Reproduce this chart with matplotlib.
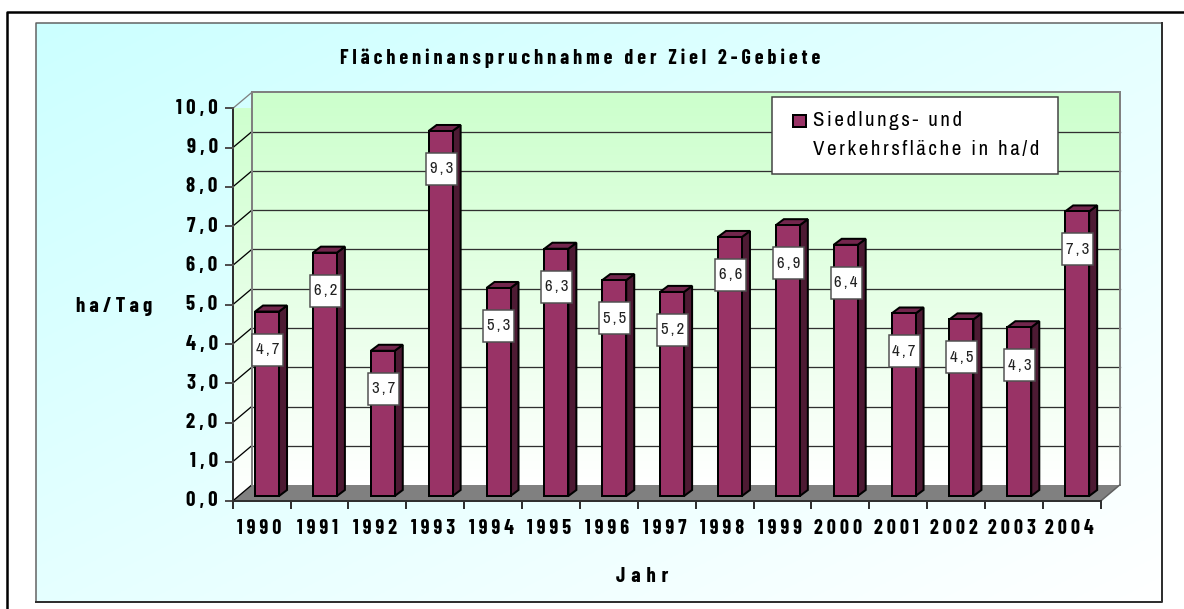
import numpy as np
import matplotlib
matplotlib.use("Agg")
import matplotlib.pyplot as plt
from matplotlib.patches import Polygon, Rectangle

years = list(range(1990, 2005))
values = [4.7, 6.2, 3.7, 9.3, 5.3, 6.3, 5.5, 5.2, 6.6, 6.9, 6.4, 4.65, 4.5, 4.3, 7.25]
value_labels = ["4,7", "6,2", "3,7", "9,3", "5,3", "6,3", "5,5", "5,2", "6,6", "6,9", "6,4", "4,7", "4,5", "4,3", "7,3"]
y_ticks = np.arange(0, 11)
y_tick_labels = ["0,0", "1,0", "2,0", "3,0", "4,0", "5,0", "6,0", "7,0", "8,0", "9,0", "10,0"]
title = "Flächeninanspruchnahme der Ziel 2-Gebiete"
x_title = "Jahr"
y_title = "ha/Tag"
legend_lines = ["Siedlungs- und", "Verkehrsfläche in ha/d"]

W, H = 1184, 609
FONT = ["Archivo Narrow", "Liberation Sans", "DejaVu Sans"]
BOLD = ["Barlow Condensed", "Asap Condensed", "Liberation Sans", "DejaVu Sans"]
plt.rcParams["font.family"] = FONT
BAR, BAR_SIDE, BAR_TOP = "#993366", "#4d1a33", "#73264d"


def spaced(s, gap="\u2009"):
    # the original has wide letter spacing
    return gap.join(s)


def px(v):
    return v * 72 / 100


fig = plt.figure(figsize=(W / 100, H / 100), dpi=100)

# page level axes in pixels
bg = fig.add_axes([0, 0, 1, 1])
bg.axis("off")
xx, yy = np.meshgrid(np.linspace(0, 1, 200), np.linspace(0, 1, 200))
panel = (xx + yy) / 2
colors = np.dstack([0.8 + 0.2 * panel, np.ones_like(panel), np.ones_like(panel)])
bg.imshow(colors, extent=(36, 1162, 602, 23), aspect="auto", zorder=1)
bg.set_xlim(0, W)
bg.set_ylim(H, 0)
# outer frame runs off the page at the right and bottom
bg.plot([7, 7, W], [H, 11.5, 11.5], color="black", lw=px(2.5), zorder=2)
bg.plot([36, 36, 1162], [602, 23, 23], color="#606060", lw=px(1.5), zorder=2)
bg.plot([36, 1162, 1162], [602, 602, 23], color="#303030", lw=px(2), zorder=2)

# chart axes = front plane of the 3d box
X0, X1, Y0, Y1 = 232.7, 1100.7, 501, 108.5
ax = fig.add_axes([X0 / W, 1 - Y0 / H, (X1 - X0) / W, (Y0 - Y1) / H])
n = len(years)
ax.axis("off")
ax.patch.set_alpha(0)
ux = (X1 - X0) / n
uy = (Y0 - Y1) / 10
dx = 19 / ux
dy = 16 / uy

grad = np.linspace(0, 1, 100).reshape(-1, 1)
wall = np.dstack([0.8 + 0.2 * grad, np.ones_like(grad), 0.8 + 0.2 * grad])
ax.imshow(wall, extent=(dx, n + dx, dy, 10 + dy), origin="upper", aspect="auto", zorder=1, clip_on=False)
side = ax.imshow(wall, extent=(0, dx, 0, 10 + dy), origin="upper", aspect="auto", zorder=1, clip_on=True)
side_poly = Polygon([(0, 0), (dx, dy), (dx, 10 + dy), (0, 10)], fc="none", ec="none", transform=ax.transData)
ax.add_patch(side_poly)
side.set_clip_path(side_poly)
ax.set_xlim(0, n)
ax.set_ylim(0, 10)

# floor
ax.add_patch(Polygon([(0, 0), (dx, dy), (n + dx, dy), (n, 0)], fc="#808080", ec="none", zorder=2, clip_on=False))

# gridlines on the walls
for t in y_ticks:
    if t > 0:
        ax.plot([dx, n + dx], [t + dy, t + dy], color="#808080" if t == 10 else "#303030", lw=px(2 if t == 10 else 1.3), zorder=3, clip_on=False)
    ax.plot([0, dx], [t, t + dy], color="#808080" if t == 10 else "black", lw=px(1.3), zorder=3, clip_on=False)
ax.plot([dx, dx], [dy, 10 + dy], color="#808080", lw=px(2), zorder=3, clip_on=False)
ax.plot([n + dx, n + dx], [dy, 10 + dy], color="#808080", lw=px(2), zorder=3, clip_on=False)
ax.plot([n, n + dx], [0, dy], color="#606060", lw=px(1.5), zorder=3, clip_on=False)

# axis lines and ticks
ax.plot([0, 0], [0, 10], color="#303030", lw=px(2), zorder=3, clip_on=False)
ax.plot([0, n], [0, 0], color="#303030", lw=px(2), zorder=3, clip_on=False)
for t, lab in zip(y_ticks, y_tick_labels):
    ax.plot([-7 / ux, 0], [t, t], color="#505050", lw=px(2), zorder=3, clip_on=False)
    ax.text(-15 / ux, t, spaced(lab), ha="right", va="center", fontsize=15, fontweight="bold", family=BOLD, color="black", zorder=6)
for i in range(n + 1):
    ax.plot([i, i], [0, -7 / uy], color="#303030", lw=px(2), zorder=3, clip_on=False)
for i, yr in enumerate(years):
    ax.text(i + 0.5 - 2 / ux, -28 / uy, spaced(str(yr)), ha="center", va="center", fontsize=14.5, fontweight="bold", family=BOLD, zorder=6)

# bars
bw = 24 / ux
bdx = 8 / ux
bdy = 6 / uy
base = 5 / uy
box_w = 31 / ux
box_h = 32 / uy
for i, v in enumerate(values):
    x0 = i + 0.5 + 5.4 / ux - bw / 2
    x1 = x0 + bw
    top = base + v
    ax.add_patch(Polygon([(x1, base), (x1 + bdx, base + bdy), (x1 + bdx, top + bdy), (x1, top)], fc=BAR_SIDE, ec="black", lw=px(2), zorder=4, clip_on=False))
    ax.add_patch(Polygon([(x0, top), (x0 + bdx, top + bdy), (x1 + bdx, top + bdy), (x1, top)], fc=BAR_TOP, ec="black", lw=px(2), zorder=4, clip_on=False))
    ax.add_patch(Rectangle((x0, base), bw, v, fc=BAR, ec="black", lw=px(2), zorder=5, clip_on=False))
    # value label box sits just below the bar top
    cx = x0 + bw / 2 + 0.5 / ux
    cy = top - 38 / uy
    ax.add_patch(Rectangle((cx - box_w / 2, cy - box_h / 2), box_w, box_h, fc="white", ec="#505050", lw=px(1.5), zorder=7, clip_on=False))
    ax.text(cx, cy, spaced(value_labels[i]), ha="center", va="center", fontsize=12, color="#222222", zorder=8)

# titles
top_ax = fig.add_axes([0, 0, 1, 1])
top_ax.set_xlim(0, W)
top_ax.set_ylim(H, 0)
top_ax.axis("off")
top_ax.patch.set_alpha(0)
top_ax.text(580, 58, spaced(title), ha="center", va="center", fontsize=14.5, fontweight="bold", family=BOLD)
top_ax.text(114, 306, spaced(y_title), ha="center", va="center", fontsize=15, fontweight="bold", family=BOLD)
top_ax.text(642, 576, spaced(x_title, "\u2009\u200a"), ha="center", va="center", fontsize=15, fontweight="bold", family=BOLD)

# legend box
top_ax.add_patch(Rectangle((771.5, 96.5), 286, 77, fc="white", ec="#404040", lw=px(1.5), zorder=5))
top_ax.add_patch(Rectangle((793, 114.5), 12.5, 12.5, fc=BAR, ec="black", lw=px(2), zorder=6))
top_ax.text(813, 120, spaced(legend_lines[0]), va="center", ha="left", fontsize=15, zorder=6)
top_ax.text(813, 149, spaced(legend_lines[1]), va="center", ha="left", fontsize=15, zorder=6)

fig.savefig("out.png", dpi=100)
